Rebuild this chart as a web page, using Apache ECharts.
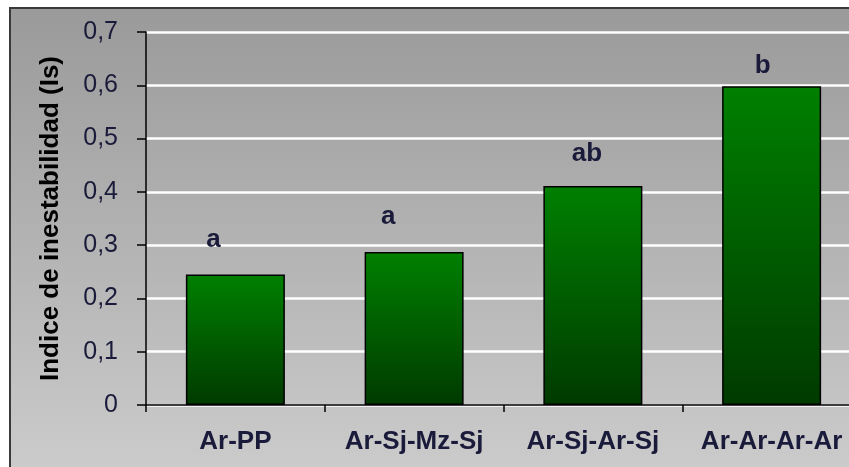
<!DOCTYPE html>
<html>
<head>
<meta charset="utf-8">
<script src="https://cdn.jsdelivr.net/npm/echarts@6/dist/echarts.min.js"></script>
<style>
html,body{margin:0;padding:0;background:#fff;overflow:hidden;}
#c{width:861px;height:467px;}
</style>
</head>
<body>
<div id="c"></div>
<script>
var categories = ['Ar-PP', 'Ar-Sj-Mz-Sj', 'Ar-Sj-Ar-Sj', 'Ar-Ar-Ar-Ar'];
var values = [0.245, 0.287, 0.411, 0.598];
var letters = ['a', 'a', 'ab', 'b'];
var yTicks = [0, 0.1, 0.2, 0.3, 0.4, 0.5, 0.6, 0.7];

var labelDist = [22, 22, 19, 8];
var labelDx = [-22, -26, -6, -9];
var chart = echarts.init(document.getElementById('c'), null, {renderer: 'canvas'});
var txt = '#1a1a3a';
var barData = values.map(function (v, i) {
  return {
    value: v,
    label: {show: true, position: 'top', distance: labelDist[i], offset: [labelDx[i], 0], formatter: letters[i]}
  };
});
chart.setOption({
  backgroundColor: '#ffffff',
  animation: false,
  graphic: [{
    type: 'rect',
    z: -10,
    shape: {x: 10, y: 8, width: 870, height: 480},
    style: {
      fill: new echarts.graphic.LinearGradient(0, 0, 0, 1, [
        {offset: 0, color: '#9a9a9a'},
        {offset: 1, color: '#cdcdcd'}
      ]),
      stroke: '#3a3a3a',
      lineWidth: 2
    }
  }],
  grid: {left: 146, top: 32, right: 0, bottom: 62, containLabel: false},
  xAxis: {
    type: 'category',
    data: categories,
    axisLine: {lineStyle: {color: '#000', width: 1.5}},
    axisTick: {show: true, length: 7, alignWithLabel: false, interval: 0, lineStyle: {color: '#000', width: 1.5}},
    axisLabel: {
      interval: 0,
      margin: 24,
      color: txt,
      fontFamily: 'Liberation Sans, Arial',
      fontWeight: 'bold',
      fontSize: 26
    }
  },
  yAxis: {
    type: 'value',
    min: 0,
    max: 0.7,
    interval: 0.1,
    name: 'Indice de inestabilidad (Is)',
    nameLocation: 'middle',
    nameGap: 82,
    nameTextStyle: {
      color: '#000',
      fontFamily: 'Liberation Sans, Arial',
      fontWeight: 'bold',
      fontSize: 26
    },
    axisLine: {show: true, lineStyle: {color: '#000', width: 1.5}},
    axisTick: {show: true, length: 9, lineStyle: {color: '#000', width: 1.5}},
    axisLabel: {
      margin: 28,
      color: txt,
      fontFamily: 'Liberation Sans, Arial',
      fontSize: 25,
      formatter: function (v) {
        var t = yTicks.filter(function (k) { return Math.abs(k - v) < 1e-9; });
        return (t.length ? t[0] : v).toString().replace('.', ',');
      }
    },
    splitLine: {show: true, lineStyle: {color: '#ffffff', width: 2.5}}
  },
  series: [{
    type: 'bar',
    data: barData,
    barWidth: 99,
    itemStyle: {
      color: new echarts.graphic.LinearGradient(0, 0, 0, 1, [
        {offset: 0, color: '#008000'},
        {offset: 1, color: '#003a00'}
      ]),
      borderColor: '#000',
      borderWidth: 1.5
    },
    label: {
      color: txt,
      fontFamily: 'Liberation Sans, Arial',
      fontWeight: 'bold',
      fontSize: 26
    }
  }]
});
</script>
</body>
</html>
